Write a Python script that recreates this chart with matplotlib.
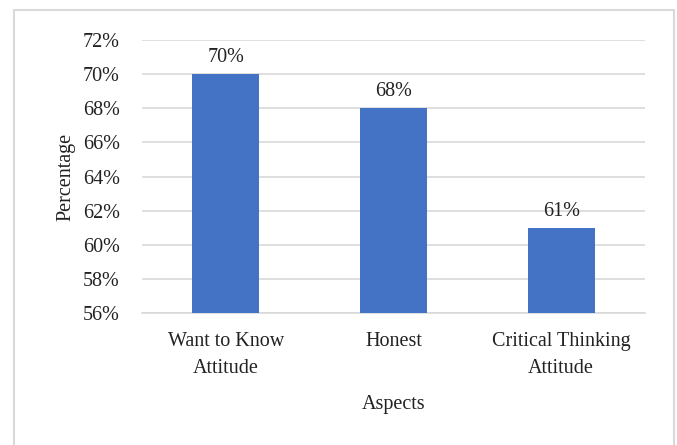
import matplotlib.pyplot as plt
from matplotlib.patches import Rectangle
from matplotlib.ticker import FuncFormatter

# data
aspects = ['Want to Know\nAttitude', 'Honest', 'Critical Thinking\nAttitude']
values = [70, 68, 61]
yticks = [56, 58, 60, 62, 64, 66, 68, 70, 72]

plt.rcParams['font.family'] = ['Liberation Serif', 'DejaVu Serif']
fs = 14.5
W, H = 677, 445

fig = plt.figure(figsize=(W / 100, H / 100), dpi=100)
ax = fig.add_axes([142/W, 1 - 313/H, 503/W, 273/H])

bars = ax.bar(range(len(values)), values, width=0.40, color='#4472C4', zorder=3)
for i, v in enumerate(values):
    ax.text(i, v + 0.4, '%d%%' % v, ha='center', va='bottom', fontsize=fs, color='#222222')

ax.set_ylim(56, 72)
ax.set_xlim(-0.5, 2.5)
ax.set_yticks(yticks)
ax.yaxis.set_major_formatter(FuncFormatter(lambda y, p: '%d%%' % y))
ax.set_xticks(range(len(values)))
ax.set_xticklabels(aspects, linespacing=1.55)
ax.tick_params(axis='both', length=0, labelsize=fs, colors='#222222')
ax.tick_params(axis='x', pad=14)
ax.tick_params(axis='y', pad=16)
ax.grid(axis='y', color='#d9d9d9', linewidth=1.2, zorder=0)
for s in ['top', 'right', 'left']:
    ax.spines[s].set_visible(False)
ax.spines['bottom'].set_color('#d9d9d9')
ax.spines['bottom'].set_linewidth(1.2)

ax.set_xlabel('Aspects', fontsize=fs, labelpad=12, color='#222222')
ax.set_ylabel('Percentage', fontsize=fs, labelpad=5, color='#222222')

# outer border (bottom edge runs off the image)
fig.patches.append(Rectangle((14/W, -10/H), 660/W, 445/H, transform=fig.transFigure,
                             fill=False, edgecolor='#d9d9d9', linewidth=1.5))

fig.savefig('out.png', dpi=100)
